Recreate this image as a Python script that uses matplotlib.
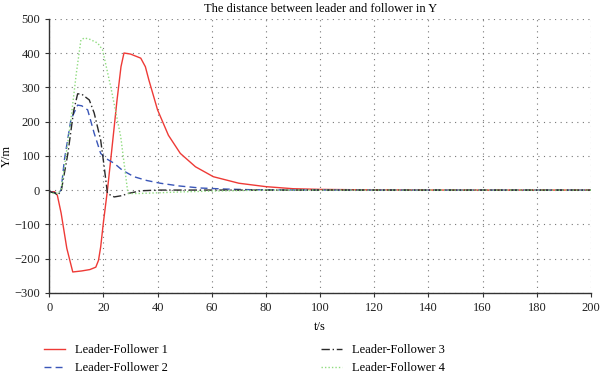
import matplotlib
matplotlib.use("Agg")
import matplotlib.pyplot as plt

plt.rcParams['font.family'] = ['Liberation Serif', 'DejaVu Serif']

# Leader-Follower 1 (red, solid)
t1 = [0, 2, 3, 4.4, 6.5, 8.7, 12, 15, 17.2, 18.2, 19, 20, 21.5, 23, 25, 26.5, 27.6, 30, 33.8, 35.5, 36.8, 40, 44, 48.4, 54, 60.6, 70, 80, 90, 100, 120, 150, 200]
y1 = [-5, -5, -15, -67, -170, -239, -236, -232, -225, -205, -166, -95, 0, 110, 260, 360, 400, 397, 385, 360, 321, 234, 160, 107, 68, 39, 20, 10, 4, 2, 0.5, 0, 0]

# Leader-Follower 2 (blue, dashed)
t2 = [0, 2, 3, 4.4, 5.6, 8, 10.5, 12, 14.2, 16.6, 19, 21, 24, 27, 31.3, 36, 41, 48, 55.8, 65, 75, 90, 120, 200]
y2 = [-5, -8, -12, 0, 88, 205, 248, 246, 234, 166, 107, 92, 78, 58, 39, 28, 20, 12, 6, 3, 1, 0.3, 0, 0]

# Leader-Follower 3 (black, dash-dot)
t3 = [0, 2, 3.2, 4.5, 6.9, 9, 10.5, 12, 14.8, 16.6, 19, 20.3, 21.5, 24, 27, 29, 34, 40, 60, 200]
y3 = [-5, -8, -15, 0, 107, 230, 281, 280, 263, 225, 146, 68, -10, -20, -16, -10, -2, 0, 0, 0]

# Leader-Follower 4 (green, dotted)
t4 = [0, 2, 3.5, 4.4, 6, 8, 10, 11.7, 13, 15, 17.9, 19.7, 22.7, 26.4, 28.9, 29.4, 33, 40, 50, 60, 80, 200]
y4 = [-8, -10, -8, 0, 90, 205, 340, 438, 444, 440, 429, 409, 302, 156, 0, -10, -10, -8, -5, -3, 0, 0]

fig = plt.figure(figsize=(6, 3.75), dpi=100)
ax = fig.add_axes([0.082, 0.219, 0.903, 0.731])

ax.plot(t1, y1, color='#ee3a36', lw=1.0, label='Leader-Follower 1')
ax.plot(t2, y2, color='#3a56b8', lw=1.0, ls=(0, (5, 3)), label='Leader-Follower 2')
ax.plot(t3, y3, color='#2a2a2a', lw=1.0, ls=(0, (6, 2, 1, 2)), label='Leader-Follower 3')
ax.plot(t4, y4, color='#8fdc7f', lw=1.0, ls=(0, (1, 1.5)), label='Leader-Follower 4')

ax.set_xlim(0, 200)
ax.set_ylim(-300, 500)
ax.set_xticks(range(0, 201, 20))
ax.set_yticks(range(-300, 501, 100))
ax.grid(True, color='#777777', ls=(0, (1, 4)), lw=0.8)
for s in ['top', 'right']:
    ax.spines[s].set_visible(False)
for s in ['left', 'bottom']:
    ax.spines[s].set_color('#333333')
    ax.spines[s].set_linewidth(1.0)
ax.tick_params(labelsize=9, length=3, color='#333333', labelcolor='#222222')

ax.set_xlabel('t/s', fontsize=9, labelpad=5)
ax.set_ylabel('Y/m', fontsize=9, labelpad=1)
ax.set_title('The distance between leader and follower in Y', fontsize=9, pad=5)

fig.legend(loc='upper left', bbox_to_anchor=(0.065, 0.095), ncol=2, frameon=False,
           fontsize=9, handlelength=1.7, columnspacing=12.2, labelspacing=0.45,
           borderaxespad=0)

fig.savefig('out.png', dpi=100)
